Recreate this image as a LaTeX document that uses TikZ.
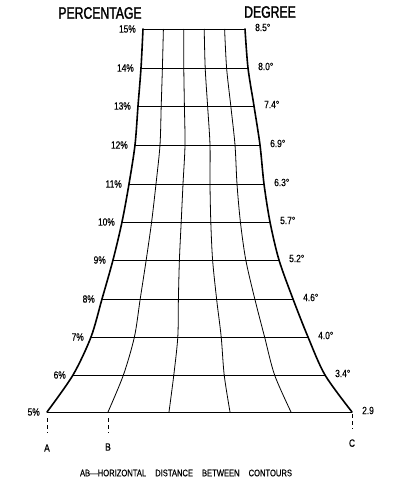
\documentclass[tikz,border=0pt]{standalone}
\usepackage{fontspec}
\newfontfamily\condfont[FakeStretch=0.8, FakeBold=0.4]{Liberation Sans}
\newfontfamily\headfont[FakeStretch=0.74, FakeBold=1.6]{Liberation Sans}
\usetikzlibrary{positioning, calc}

\begin{document}
\begin{tikzpicture}[
    x=1pt, y=-1pt,
    font=\condfont,
    edge/.style={line width=1.6pt, line cap=round, line join=round},
    grid/.style={line width=0.8pt},
    tick/.style={line width=0.8pt, dash pattern=on 4pt off 3pt},
    lbl/.style={font=\condfont\fontsize{10.5}{11}\selectfont, inner sep=0pt},
    head/.style={font=\headfont\fontsize{16.5}{18}\selectfont, inner sep=0pt},
]
    \useasboundingbox (0,0) rectangle (396,479);

    % Headings
    \node[head] (percentage) at (100,13) {PERCENTAGE};
    \node[head] (degree) at (270,12) {DEGREE};

    % Rows: index / percentage / degree / y / left x / right x
    \foreach \i/\p/\d/\y/\xl/\xr in {
        0/15/8.5°/29/143/245,
        1/14/8.0°/68/141/248,
        2/13/7.4°/106/138/254,
        3/12/6.9°/145/135/260,
        4/11/6.3°/184/129/264,
        5/10/5.7°/222/122/270,
        6/9/5.2°/260/113/279,
        7/8/4.6°/299/102/293,
        8/7/4.0°/337/91/308,
        9/6/3.4°/375/73/325,
        10/5/2.9/412/47/352}{
        \coordinate (L\i) at (\xl,\y);
        \coordinate (R\i) at (\xr,\y);
        \foreach \j in {1,...,4}
            \coordinate (P\i-\j) at ($(L\i)!\j/5!(R\i)$);
        \node[lbl, left=7pt of L\i] (pct\i) {\p\%};
        \node[lbl, right=10pt of R\i, yshift=1.5pt] (deg\i) {\d};
        \draw[grid] (L\i) -- (R\i);
    }

    % Inner contours
    \foreach \j in {1,...,4}
        \draw[grid] plot[smooth] coordinates {(P0-\j) (P1-\j) (P2-\j) (P3-\j)
            (P4-\j) (P5-\j) (P6-\j) (P7-\j) (P8-\j) (P9-\j) (P10-\j)};

    % Outer edges
    \draw[edge] plot[smooth] coordinates {(L0) (L1) (L2) (L3) (L4) (L5)
        (L6) (L7) (L8) (L9) (L10)};
    \draw[edge] plot[smooth] coordinates {(R0) (R1) (R2) (R3) (R4) (R5)
        (R6) (R7) (R8) (R9) (R10)};

    % Distance marks
    \draw[tick] ([yshift=-6pt]L10) -- ++(0,15) node[lbl, below=11pt] (markA) {A};
    \draw[tick] ([yshift=-6pt]P10-1) -- ++(0,15) node[lbl, below=10pt] (markB) {B};
    \draw[tick] ([yshift=-2pt]R10) -- ++(0,15) node[lbl, below=10pt] (markC) {C};

    \node[lbl, font=\condfont\fontsize{9.5}{10}\selectfont] (note) at (186,473)
        {AB—HORIZONTAL\hspace{9pt}DISTANCE\hspace{9pt}BETWEEN\hspace{9pt}CONTOURS};
\end{tikzpicture}
\end{document}
